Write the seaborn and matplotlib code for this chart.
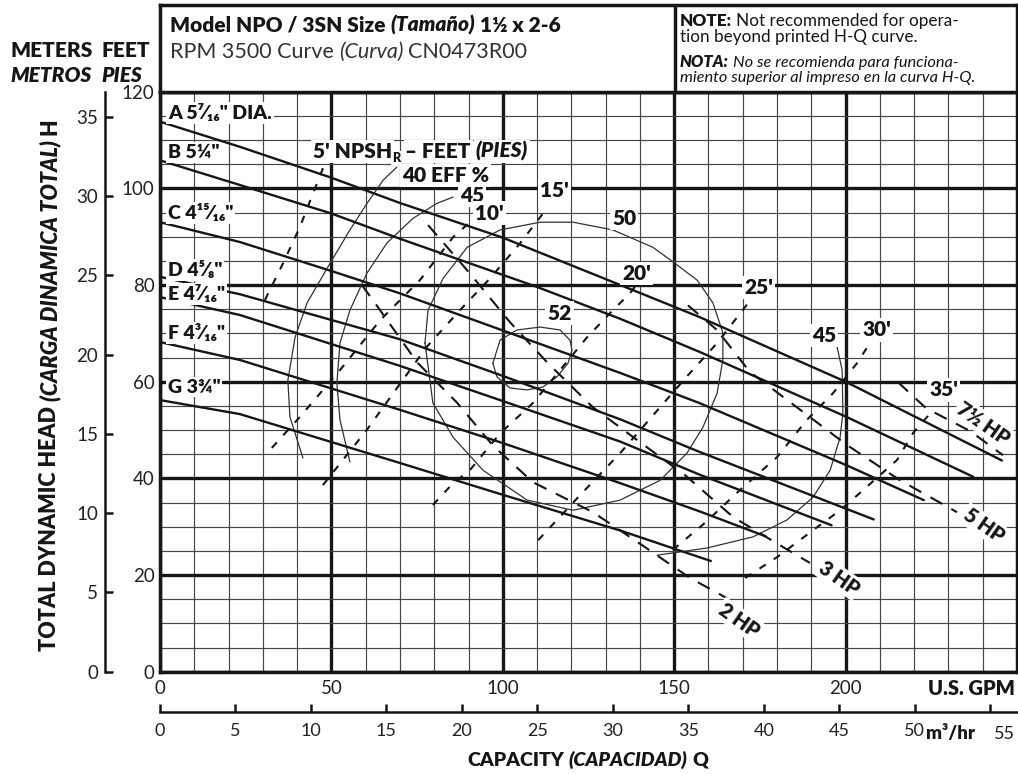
import numpy as np
import pandas as pd
import matplotlib
matplotlib.use("Agg")
import matplotlib.pyplot as plt
from matplotlib.transforms import IdentityTransform
import seaborn as sns

# impeller curves: head (ft) against capacity (U.S. GPM)
a_gpm = [0, 23.3, 50, 69.9, 100, 134.3, 157.3, 200, 245.6]
a_ft = [113.8, 108.6, 102.2, 97.0, 89.8, 80.0, 73.4, 60.0, 43.7]
b_gpm = [0, 23.3, 50, 69.9, 110, 134.3, 157.3, 200, 237.3]
b_ft = [105.8, 100.7, 94.8, 89.6, 79.6, 73.0, 66.2, 52.8, 40.3]
c_gpm = [0, 23.3, 50, 69.9, 100, 134.3, 157.3, 200, 222.8]
c_ft = [93.0, 88.9, 82.9, 78.3, 70.6, 61.8, 55.6, 42.8, 35.5]
d_gpm = [0, 23.3, 69.9, 100, 134.3, 157.3, 208.2]
d_ft = [81.7, 78.1, 68.8, 61.2, 52.2, 45.5, 31.5]
e_gpm = [0, 23.3, 69.9, 100, 134.3, 157.3, 195.9]
e_ft = [77.5, 73.8, 63.3, 56.0, 47.6, 40.8, 30.3]
f_gpm = [0, 23.3, 69.9, 100, 134.3, 157.3, 176.7]
f_ft = [68.2, 64.5, 54.2, 47.3, 39.0, 33.2, 28.0]
g_gpm = [0, 23.3, 69.9, 100, 134.3, 160.7]
g_ft = [56.2, 53.3, 43.2, 36.6, 29.2, 22.9]
imp_names = ['A 5⁷⁄₁₆" DIA.', 'B 5¼"', 'C 4¹⁵⁄₁₆"', 'D 4⁵⁄₈"', 'E 4⁷⁄₁₆"', 'F 4³⁄₁₆"', 'G 3¾"']

# efficiency contours
eff40_gpm = [41.7, 37.9, 37.3, 39.4, 42.9, 49.6, 55.4, 60.4, 65.1, 69.1]
eff40_ft = [44.2, 52.7, 60.3, 69.2, 76.3, 84.5, 91.4, 96.9, 101.7, 104.4]
eff45a_gpm = [55.4, 52.5, 51.6, 52.5, 55.4, 60.4, 66.2, 73.8, 80.8, 85.5]
eff45a_ft = [43.4, 52.1, 59.7, 68.0, 74.8, 82.5, 88.7, 93.8, 96.9, 98.2]
eff45b_gpm = [197.5, 199.0, 199.2, 198.4, 195.5, 190.5, 182.9, 173.0, 159.6, 145.0]
eff45b_ft = [67.2, 62.4, 53.5, 48.5, 41.7, 36.1, 31.4, 27.9, 25.6, 24.1]
eff50_gpm = [77.3, 79.6, 85.5, 94.2, 107.1, 120.5, 134.2, 145.9, 153.7, 158.4, 162.5, 164.2,
             164.2, 161.3, 156.7, 150.2, 143.8, 132.1, 120.5, 110.9, 99.2, 89.6, 82.6, 78.2, 77.3]
eff50_ft = [68.0, 55.6, 48.5, 41.7, 35.5, 33.4, 35.5, 39.6, 45.2, 50.6, 57.6, 64.5,
            70.1, 76.3, 81.0, 84.5, 87.8, 91.4, 93.0, 93.0, 91.4, 87.8, 81.4, 74.8, 68.0]
eff52_gpm = [97.1, 99.2, 104.1, 110.9, 116.7, 119.6, 120.2, 119.0, 115.8, 111.7, 107.1, 102.1, 98.3, 97.1]
eff52_ft = [63.8, 68.6, 70.7, 71.3, 70.7, 68.6, 66.5, 63.8, 61.0, 58.9, 58.3, 58.7, 61.0, 63.8]

# NPSHr lines (ft)
npsh5_gpm = [30.6, 35.9, 40.8, 48.1]
npsh5_ft = [76.9, 84.5, 92.0, 105.2]
npsh10_gpm = [32.6, 40.8, 52.5, 64.2, 75.8, 85.5, 90.4]
npsh10_ft = [46.3, 52.7, 62.4, 72.7, 81.0, 89.9, 93.0]
npsh15_gpm = [47.5, 60.3, 77.8, 87.5, 96.3, 105.0, 112.9]
npsh15_ft = [38.6, 50.0, 67.2, 74.8, 81.4, 88.6, 95.9]
npsh20_gpm = [79.6, 85.5, 90.4, 99.2, 108.8, 116.7, 124.6, 132.1, 137.1, 140.0]
npsh20_ft = [34.5, 39.0, 41.7, 49.3, 55.6, 62.4, 69.2, 74.8, 78.3, 81.0]
npsh25_gpm = [110.3, 122.5, 134.2, 153.6, 162.4, 171.5]
npsh25_ft = [27.2, 36.5, 45.2, 61.0, 67.9, 76.2]
npsh30_gpm = [149.6, 159.0, 169.2, 180.0, 188.7, 196.3, 203.3, 207.1]
npsh30_ft = [25.2, 30.8, 37.6, 44.4, 52.1, 57.6, 63.8, 68.0]
npsh35_gpm = [170.7, 180.0, 191.7, 198.4, 204.2, 215.0, 219.7, 225.5]
npsh35_ft = [19.4, 23.7, 29.9, 33.4, 37.0, 43.8, 49.4, 54.1]

# motor horsepower lines
hp2_gpm = [58.9, 64.2, 75.0, 86.6, 97.1, 108.8, 126.3, 140.6, 154.6, 165.4]
hp2_ft = [80.0, 74.8, 64.0, 55.7, 46.8, 39.2, 33.0, 26.2, 19.4, 15.2]
hp3_gpm = [78.2, 90.4, 102.1, 113.2, 126.3, 140.0, 153.1, 167.2, 181.7, 189.6]
hp3_ft = [92.4, 82.4, 72.3, 63.8, 54.7, 47.5, 40.7, 32.0, 25.8, 22.5]
hp5_gpm = [154.0, 162.5, 172.1, 185.8, 200.4, 215.9, 232.5]
hp5_ft = [75.8, 70.7, 62.0, 54.7, 46.9, 39.6, 33.0]
hp75_gpm = [215.3, 223.5, 236.3, 245.9]
hp75_ft = [59.9, 54.5, 49.8, 44.8]

gpm_ticks = [0, 50, 100, 150, 200]
ft_ticks = [0, 20, 40, 60, 80, 100, 120]
m_ticks = [0, 5, 10, 15, 20, 25, 30, 35]
m3h_ticks = [0, 5, 10, 15, 20, 25, 30, 35, 40, 45, 50, 55]


def frame(pairs):
    return pd.concat([pd.DataFrame({"gpm": x, "ft": y, "curve": n}) for n, (x, y) in pairs.items()],
                     ignore_index=True)


df_imp = frame({"A": (a_gpm, a_ft), "B": (b_gpm, b_ft), "C": (c_gpm, c_ft), "D": (d_gpm, d_ft),
                "E": (e_gpm, e_ft), "F": (f_gpm, f_ft), "G": (g_gpm, g_ft)})
df_eff = frame({"40": (eff40_gpm, eff40_ft), "45a": (eff45a_gpm, eff45a_ft), "45b": (eff45b_gpm, eff45b_ft),
                "50": (eff50_gpm, eff50_ft), "52": (eff52_gpm, eff52_ft)})
df_npsh = frame({"5": (npsh5_gpm, npsh5_ft), "10": (npsh10_gpm, npsh10_ft), "15": (npsh15_gpm, npsh15_ft),
                 "20": (npsh20_gpm, npsh20_ft), "25": (npsh25_gpm, npsh25_ft), "30": (npsh30_gpm, npsh30_ft),
                 "35": (npsh35_gpm, npsh35_ft)})
df_hp = frame({"2": (hp2_gpm, hp2_ft), "3": (hp3_gpm, hp3_ft), "5": (hp5_gpm, hp5_ft), "7.5": (hp75_gpm, hp75_ft)})

sns.set_theme(style="white")
plt.rcParams["font.family"] = ["Lato", "DejaVu Sans"]

W, H = 1018, 774
HB = "heavy"
fig = plt.figure(figsize=(W / 100, H / 100), dpi=100)
ax = fig.add_axes([160 / W, (H - 671.7) / H, 857 / W, 580 / H])
hdr = fig.add_axes([160 / W, (H - 91.7) / H, 857 / W, 86.7 / H])

ink = "#161616"

# curves
sns.lineplot(data=df_imp, x="gpm", y="ft", units="curve", estimator=None, sort=False,
             color=ink, lw=1.7, ax=ax, legend=False, zorder=4)
sns.lineplot(data=df_eff, x="gpm", y="ft", units="curve", estimator=None, sort=False,
             color="#333333", lw=0.9, ax=ax, legend=False, zorder=3)
sns.lineplot(data=df_npsh, x="gpm", y="ft", units="curve", estimator=None, sort=False,
             color=ink, lw=1.5, linestyle=(0, (3.6, 4.6)), ax=ax, legend=False, zorder=3)
sns.lineplot(data=df_hp, x="gpm", y="ft", units="curve", estimator=None, sort=False,
             color=ink, lw=1.5, linestyle=(0, (6.5, 5.0)), ax=ax, legend=False, zorder=3)

ax.set_xlim(0, 250)
ax.set_ylim(0, 120)
ax.set_xticks(gpm_ticks)
ax.set_xticks(np.arange(0, 251, 10), minor=True)
ax.set_yticks(ft_ticks)
ax.set_yticks(np.arange(0, 121, 5), minor=True)
ax.grid(which="major", color=ink, lw=2.4)
ax.grid(which="minor", color="#474747", lw=0.85)
ax.set_axisbelow(True)
ax.tick_params(which="both", length=0)
ax.tick_params(axis="y", pad=4, labelsize=13.5, labelcolor="#222222")
ax.tick_params(axis="x", pad=6, labelsize=13.5, labelcolor="#222222")
ax.set_xlabel("")
ax.set_ylabel("")
for s in ax.spines.values():
    s.set_linewidth(2.5)
    s.set_color(ink)

# metric scales
m_ax = ax.secondary_yaxis(-0.064, functions=(lambda f: f / 3.2808, lambda m: m * 3.2808))
m_ax.set_yticks(m_ticks)
m_ax.tick_params(direction="in", length=6, width=1.8, labelsize=13.5, pad=5, labelcolor="#222222", color=ink)
m_ax.spines["left"].set_linewidth(1.8)
m_ax.spines["left"].set_color(ink)

q_ax = ax.secondary_xaxis(-0.0695, functions=(lambda g: g / 4.4029, lambda m: m * 4.4029))
q_ax.set_xticks(m3h_ticks, [str(v) for v in m3h_ticks[:-1]] + [""])
q_ax.tick_params(direction="in", length=6, width=1.8, labelsize=13, pad=8, labelcolor="#222222", color=ink)
q_ax.spines["bottom"].set_linewidth(1.8)
q_ax.spines["bottom"].set_color(ink)

# header box
hdr.set_xlim(0, 1)
hdr.set_ylim(0, 1)
hdr.set_xticks([])
hdr.set_yticks([])
hdr.set_facecolor("white")
for s in hdr.spines.values():
    s.set_linewidth(2.5)
    s.set_color(ink)
hdr.axvline((675 - 160) / 857, color=ink, lw=2.5)

rend = fig.canvas.get_renderer()


def runs(x, y, parts, size, rot=0, align="left", color=ink, box=False):
    made = []
    for p in parts:
        gap = p[3] if len(p) > 3 else 0
        sz = p[4] if len(p) > 4 else size
        dy = p[5] if len(p) > 5 else 0
        t = fig.text(0, 0, p[0], transform=IdentityTransform(), fontsize=sz, fontweight=p[1],
                     fontstyle=p[2], color=color, rotation=rot,
                     ha="left" if rot == 0 else "center", va="baseline" if rot == 0 else "bottom", zorder=7)
        if box:
            t.set_bbox(dict(boxstyle="square,pad=0.08", fc="white", ec="none"))
        ext = t.get_window_extent(rend)
        made.append((t, (ext.width if rot == 0 else ext.height) + gap, dy))
    total = sum(m[1] for m in made) - (parts[-1][3] if len(parts[-1]) > 3 else 0)
    if rot == 0:
        pos = x - total / 2 if align == "center" else x
        for t, adv, dy in made:
            t.set_position((pos, H - y + dy))
            pos += adv
    else:
        pos = H - y - total / 2
        for t, adv, dy in made:
            t.set_position((x + dy, pos))
            pos += adv


runs(170, 32, [("Model NPO / 3SN Size", HB, "normal", 5), ("(Tamaño)", HB, "italic", 5),
               ("1½ x 2-6", HB, "normal")], 15)
runs(170, 58, [("RPM 3500 Curve", "normal", "normal", 5), ("(Curva)", "normal", "italic", 5),
               ("CN0473R00", "normal", "normal")], 15.5, color="#333333")
runs(680, 26, [("NOTE:", HB, "normal", 4), ("Not recommended for opera-", "normal", "normal")], 12.3)
runs(680, 42, [("tion beyond printed H-Q curve.", "normal", "normal")], 12.3)
runs(680, 67, [("NOTA:", HB, "italic", 4), ("No se recomienda para funciona-", "normal", "italic")], 11.8)
runs(680, 82, [("miento superior al impreso en la curva H-Q.", "normal", "italic")], 11.8)
runs(11, 57, [("METERS", HB, "normal", 8), ("FEET", HB, "normal")], 15)
runs(10, 82, [("METROS", HB, "italic", 10), ("PIES", HB, "italic")], 15)
runs(588, 766, [("CAPACITY", HB, "normal", 5), ("(CAPACIDAD)", HB, "italic", 5),
                ("Q", HB, "normal")], 14, align="center")
runs(50, 385, [("TOTAL DYNAMIC HEAD", HB, "normal", 5), ("(CARGA DINAMICA TOTAL)", HB, "italic", 5),
               ("H", HB, "normal")], 15.5, rot=90)
runs(313, 158, [("5' NPSH", HB, "normal", 0), ("R", HB, "normal", 5, 9, -4),
                ("– FEET", HB, "normal", 5), ("(PIES)", HB, "italic")], 15, box=True)

fig.text(1015 / W, 1 - 695 / H, "U.S. GPM", ha="right", va="baseline", fontsize=14.5, fontweight=HB, color=ink)
fig.text(926 / W, 1 - 739 / H, "m³/hr", ha="left", va="baseline", fontsize=13.5, fontweight=HB, color=ink)
fig.text(1004 / W, 1 - 739 / H, "55", ha="center", va="baseline", fontsize=13, color="#222222")

# curve labels
box = dict(boxstyle="square,pad=0.1", fc="white", ec="none")
for name, yv in zip(imp_names, [115.6, 107.5, 94.9, 83.1, 78.1, 70.0, 58.9]):
    ax.text(2.3, yv, name, ha="left", va="center", fontsize=14, fontweight=HB, color=ink, bbox=box, zorder=6)

chart_labels = [("40 EFF %", 70.6, 102.7, "left"), ("45", 91.0, 98.6, "center"), ("10'", 96.1, 94.9, "center"),
                ("15'", 115.0, 99.6, "center"), ("50", 135.4, 93.8, "center"), ("20'", 139.0, 82.4, "center"),
                ("25'", 174.7, 79.5, "center"), ("52", 116.5, 74.2, "center"), ("45", 193.7, 69.6, "center"),
                ("30'", 209.0, 70.7, "center"), ("35'", 228.6, 58.3, "center")]
for txt, xv, yv, ha in chart_labels:
    ax.text(xv, yv, txt, ha=ha, va="center", fontsize=15, fontweight=HB, color=ink, bbox=box, zorder=6)

for txt, xv, yv in [("7½ HP", 240.2, 51.4), ("5 HP", 240.2, 30.3), ("3 HP", 198.0, 19.4), ("2 HP", 168.9, 10.7)]:
    ax.text(xv, yv, txt, ha="center", va="center", rotation=-35, rotation_mode="anchor", fontsize=14.5,
            fontweight=HB, color=ink, bbox=box, zorder=6)

plt.savefig("out.png", dpi=100)
